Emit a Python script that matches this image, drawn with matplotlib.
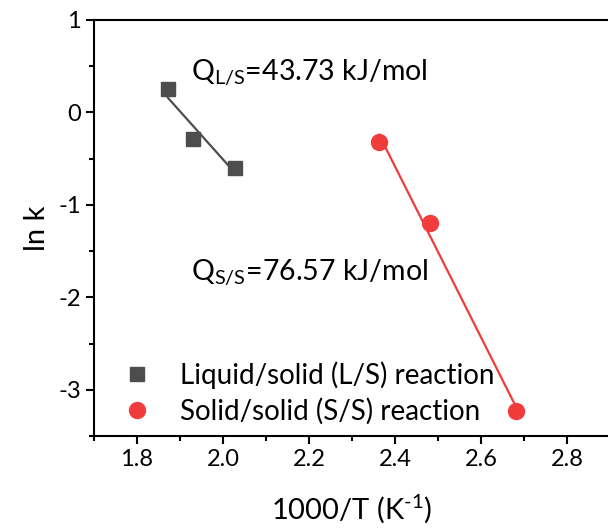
import matplotlib.pyplot as plt
import numpy as np
from matplotlib.ticker import MultipleLocator

# data
ls_x = [1.872, 1.930, 2.028]
ls_y = [0.25, -0.29, -0.60]
ss_x = [2.363, 2.481, 2.681]
ss_y = [-0.325, -1.20, -3.23]
ls_label = 'Liquid/solid (L/S) reaction'
ss_label = 'Solid/solid (S/S) reaction'
q_ls = r'Q$_{\mathregular{L/S}}$=43.73 kJ/mol'
q_ss = r'Q$_{\mathregular{S/S}}$=76.57 kJ/mol'

plt.rcParams['font.family'] = ['Lato', 'DejaVu Sans']
plt.rcParams['axes.unicode_minus'] = False

fig = plt.figure(figsize=(6.08, 5.29), dpi=100)
ax = fig.add_axes([94/608, 1 - 436/529, (610 - 94)/608, (436 - 20)/529])

gray = '#4d4d4d'
red = '#f03c3c'

# linear fits drawn across each data range
for xs, ys, c in [(ls_x, ls_y, gray), (ss_x, ss_y, red)]:
    p = np.polyfit(xs, ys, 1)
    xx = np.array([min(xs), max(xs)])
    ax.plot(xx, np.polyval(p, xx), color=c, lw=1.6, zorder=2)

ax.plot(ls_x, ls_y, 's', color=gray, ms=10, label=ls_label, zorder=3)
ax.plot(ss_x, ss_y, 'o', color=red, ms=11.5, label=ss_label, zorder=3)

ax.set_xlim(1.7, 2.9)
ax.set_ylim(-3.5, 1)
ax.xaxis.set_major_locator(MultipleLocator(0.2))
ax.xaxis.set_minor_locator(MultipleLocator(0.1))
ax.yaxis.set_major_locator(MultipleLocator(1))
ax.yaxis.set_minor_locator(MultipleLocator(0.5))
ax.tick_params(which='both', direction='out', width=1.5, labelsize=17)
ax.tick_params(which='major', length=6)
ax.tick_params(which='minor', length=3.5)
ax.xaxis.set_major_formatter(plt.FormatStrFormatter('%.1f'))
for s in ax.spines.values():
    s.set_linewidth(1.5)

ax.set_xlabel('1000/T (K$^{\\mathregular{\u20101}}$)', fontsize=21, labelpad=16)
ax.set_ylabel('ln k', fontsize=21, labelpad=6)

ax.text(1.925, 0.43, q_ls, fontsize=20.5, ha='left', va='center')
ax.text(1.925, -1.74, q_ss, fontsize=20.5, ha='left', va='center')

ax.legend(loc='lower left', bbox_to_anchor=(0.056, 0.026), frameon=False,
          fontsize=20, handlelength=1, handletextpad=1.05, labelspacing=0.35,
          borderpad=0, borderaxespad=0)

fig.savefig('out.png', dpi=100)
